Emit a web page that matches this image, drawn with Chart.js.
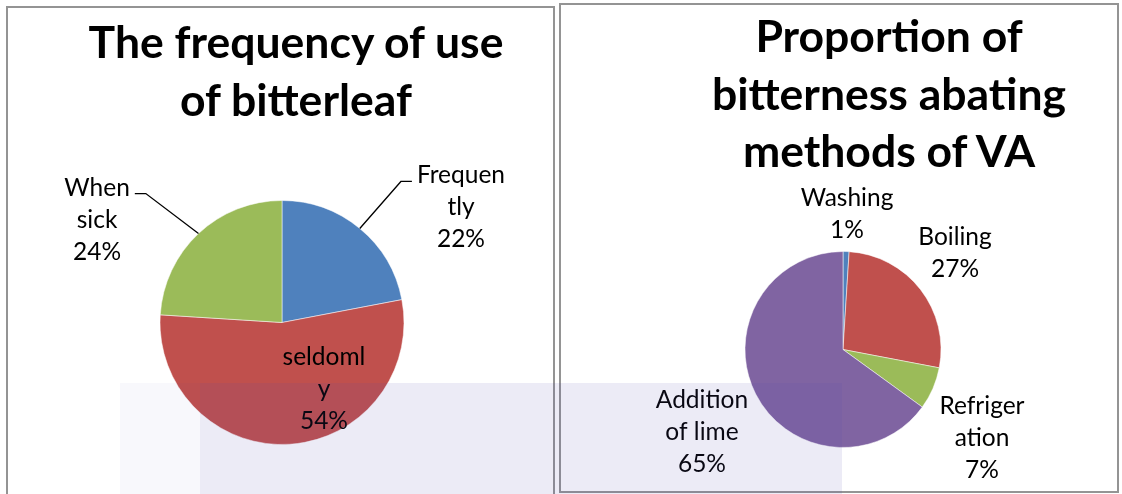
<!DOCTYPE html>
<html>
<head>
<meta charset="utf-8">
<script src="https://cdn.jsdelivr.net/npm/chart.js@4.4.0/dist/chart.umd.min.js"></script>
<style>
html, body { margin: 0; padding: 0; background: #fff; }
body { width: 1122px; height: 494px; position: relative; overflow: hidden; font-family: Lato, sans-serif; }
.box { position: absolute; border: 2px solid #949494; box-sizing: border-box; background: #fff; }
#box1 { left: 6px; top: 6px; width: 549px; height: 500px; }
#box2 { left: 559px; top: 3px; width: 560px; height: 490px; }
.box canvas { position: absolute; left: 0; top: 0; }
.title { position: absolute; width: 600px; text-align: center; font-weight: 700; font-size: 44.5px; line-height: 58px; color: #000; white-space: nowrap; }
#t1 { left: -12px; top: 4px; }
#t2 { left: 28px; top: 1px; line-height: 57.5px; }
.wm { position: absolute; pointer-events: none; }
</style>
</head>
<body>
<div class="box" id="box1">
  <canvas id="useChart" width="545" height="496"></canvas>
  <div class="title" id="t1">The frequency of use<br>of bitterleaf</div>
</div>
<div class="box" id="box2">
  <canvas id="methodChart" width="556" height="486"></canvas>
  <div class="title" id="t2">Proportion of<br>bitterness abating<br>methods of VA</div>
</div>
<div class="wm" style="left:120px;top:383px;width:80px;height:111px;background:rgba(80,70,170,0.04);"></div>
<div class="wm" style="left:200px;top:383px;width:642px;height:111px;background:rgba(80,70,170,0.11);"></div>
<script>
// frequency of use (left pie)
const useLabels = [['Frequen', 'tly'], ['seldoml', 'y'], ['When', 'sick']];
const useValues = [22, 54, 24];
const useColors = ['#4F81BD', '#C0504D', '#9BBB59'];

// bitterness abating methods (right pie)
const methodLabels = ['Washing', 'Boiling', ['Refriger', 'ation'], ['Addition', 'of lime']];
const methodValues = [1, 27, 7, 65];
const methodColors = ['#4F81BD', '#C0504D', '#9BBB59', '#8064A2'];

// label text + leader lines drawn round the arcs
const pieLabels = {
    id: 'pieLabels',
    afterDatasetsDraw(chart, args, opts) {
        const ctx = chart.ctx;
        const meta = chart.getDatasetMeta(0);
        const data = chart.data.datasets[0].data;
        const total = data.reduce((a, b) => a + b, 0);
        ctx.save();
        ctx.font = opts.font;
        ctx.fillStyle = '#000';
        ctx.strokeStyle = '#000';
        ctx.lineWidth = 1.3;
        ctx.textAlign = 'center';
        ctx.textBaseline = 'alphabetic';
        meta.data.forEach((arc, i) => {
            const p = arc.getProps(['x', 'y', 'startAngle', 'endAngle', 'outerRadius'], true);
            const pos = opts.positions[i];
            const lx = p.x + pos[0] * p.outerRadius;
            const ly = p.y + pos[1] * p.outerRadius;
            const label = chart.data.labels[i];
            const lines = (Array.isArray(label) ? label : [label]).concat(Math.round(data[i] / total * 100) + '%');
            const top = ly - (lines.length - 1) * opts.lineHeight / 2;
            lines.forEach((t, k) => ctx.fillText(t, lx, top + k * opts.lineHeight + 8));
            if (opts.leaders[i]) {
                const mid = (p.startAngle + p.endAngle) / 2;
                const ax = p.x + Math.cos(mid) * p.outerRadius;
                const ay = p.y + Math.sin(mid) * p.outerRadius;
                const w = ctx.measureText(lines[0]).width;
                const side = lx > p.x ? -1 : 1;
                const ex = lx + side * (w / 2 + 5);
                const ey = top + 6;
                ctx.beginPath();
                ctx.moveTo(ax, ay);
                ctx.lineTo(ex + side * 11, ey);
                ctx.lineTo(ex, ey);
                ctx.stroke();
            }
        });
        ctx.restore();
    }
};

function makePie(id, labels, values, colors, padding, labelOpts) {
    return new Chart(document.getElementById(id), {
        type: 'pie',
        data: {
            labels: labels,
            datasets: [{
                data: values,
                backgroundColor: colors,
                borderColor: 'rgba(255,255,255,0.5)',
                borderWidth: 1,
                hoverOffset: 0
            }]
        },
        options: {
            responsive: false,
            animation: false,
            layout: { padding: padding },
            plugins: {
                legend: { display: false },
                tooltip: { enabled: false },
                pieLabels: labelOpts
            }
        },
        plugins: [pieLabels]
    });
}

makePie('useChart', useLabels, useValues, useColors,
    { top: 192, bottom: 59, left: 20, right: 17 },
    {
        font: '24.5px Lato',
        lineHeight: 32,
        positions: [[1.467, -0.943], [0.344, 0.549], [-1.516, -0.844]],
        leaders: [true, false, true]
    });

makePie('methodChart', methodLabels, methodValues, methodColors,
    { top: 246, bottom: 43, left: 24, right: 16 },
    {
        font: '24.5px Lato',
        lineHeight: 32,
        positions: [[0.041, -1.378], [1.143, -0.98], [1.418, 0.898], [-1.439, 0.837]],
        leaders: [false, false, false, false]
    });
</script>
</body>
</html>
